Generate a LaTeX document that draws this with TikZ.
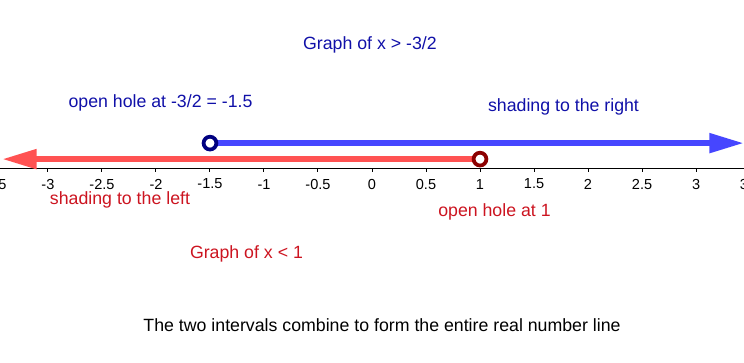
\documentclass[tikz,border=0pt]{standalone}
\usepackage{fontspec}
\setmainfont{Liberation Sans}
\usetikzlibrary{arrows.meta}
\definecolor{rayblue}{RGB}{70,70,255}
\definecolor{rayred}{RGB}{255,82,82}
\definecolor{textblue}{RGB}{16,16,168}
\definecolor{textred}{RGB}{204,20,32}
\definecolor{holeblue}{RGB}{0,0,128}
\definecolor{holered}{RGB}{140,0,0}
\tikzset{
  note/.style={font=\fontsize{13.3}{16}\selectfont, inner sep=0pt},
  ticklabel/.style={font=\fontsize{10.9}{13}\selectfont, inner sep=0pt},
  ray/.style={line width=4.5pt, -{Triangle[length=26pt,width=14pt]}},
  hole/.style={circle, draw=#1, line width=2.8pt, fill=white,
    minimum size=9.6pt, inner sep=0pt}
}
\begin{document}
\begin{tikzpicture}[x=81pt,y=81pt]
  \useasboundingbox (-3.444,-1.796) rectangle (3.444,1.556);
  \clip (-3.444,-1.796) rectangle (3.444,1.556);
  % number line
  \draw[line width=0.75pt] (-3.444,0) -- (3.444,0);
  \foreach \t/\lab [count=\i] in {-3.5/-3.5,-3/-3,-2.5/-2.5,-2/-2,-1.5/-1.5,
      -1/-1,-0.5/-0.5,0/0,0.5/0.5,1/1,1.5/1.5,2/2,2.5/2.5,3/3,3.5/3.5}{
    \draw[line width=0.75pt] (\t,0) -- (\t,-0.04);
    \node[ticklabel] (tick\i) at (\t,-0.148) {\lab};
  }
  % the two rays
  \coordinate (bstart) at (-1.5,0.231);
  \coordinate (btip) at (3.444,0.231);
  \coordinate (rstart) at (1,0.083);
  \coordinate (rtip) at (-3.426,0.083);
  \draw[ray, rayblue] (bstart) -- (btip);
  \draw[ray, rayred] (rstart) -- (rtip);
  \node[hole=holeblue] (bhole) at (bstart) {};
  \node[hole=holered] (rhole) at (rstart) {};
  % labels
  \begin{scope}[textblue]
    \node[note] (btitle) at (-0.019,1.139) {Graph of x > -3/2};
    \node[note] (bholetxt) at (-1.958,0.602) {open hole at -3/2 = -1.5};
    \node[note] (bshade) at (1.773,0.565) {shading to the right};
  \end{scope}
  \begin{scope}[textred]
    \node[note] (rshade) at (-2.333,-0.296) {shading to the left};
    \node[note] (rholetxt) at (1.134,-0.407) {open hole at 1};
    \node[note] (rtitle) at (-1.162,-0.796) {Graph of x < 1};
  \end{scope}
  \node[note] (summary) at (0.093,-1.454) {The two intervals combine to form the entire real number line};
\end{tikzpicture}
\end{document}
